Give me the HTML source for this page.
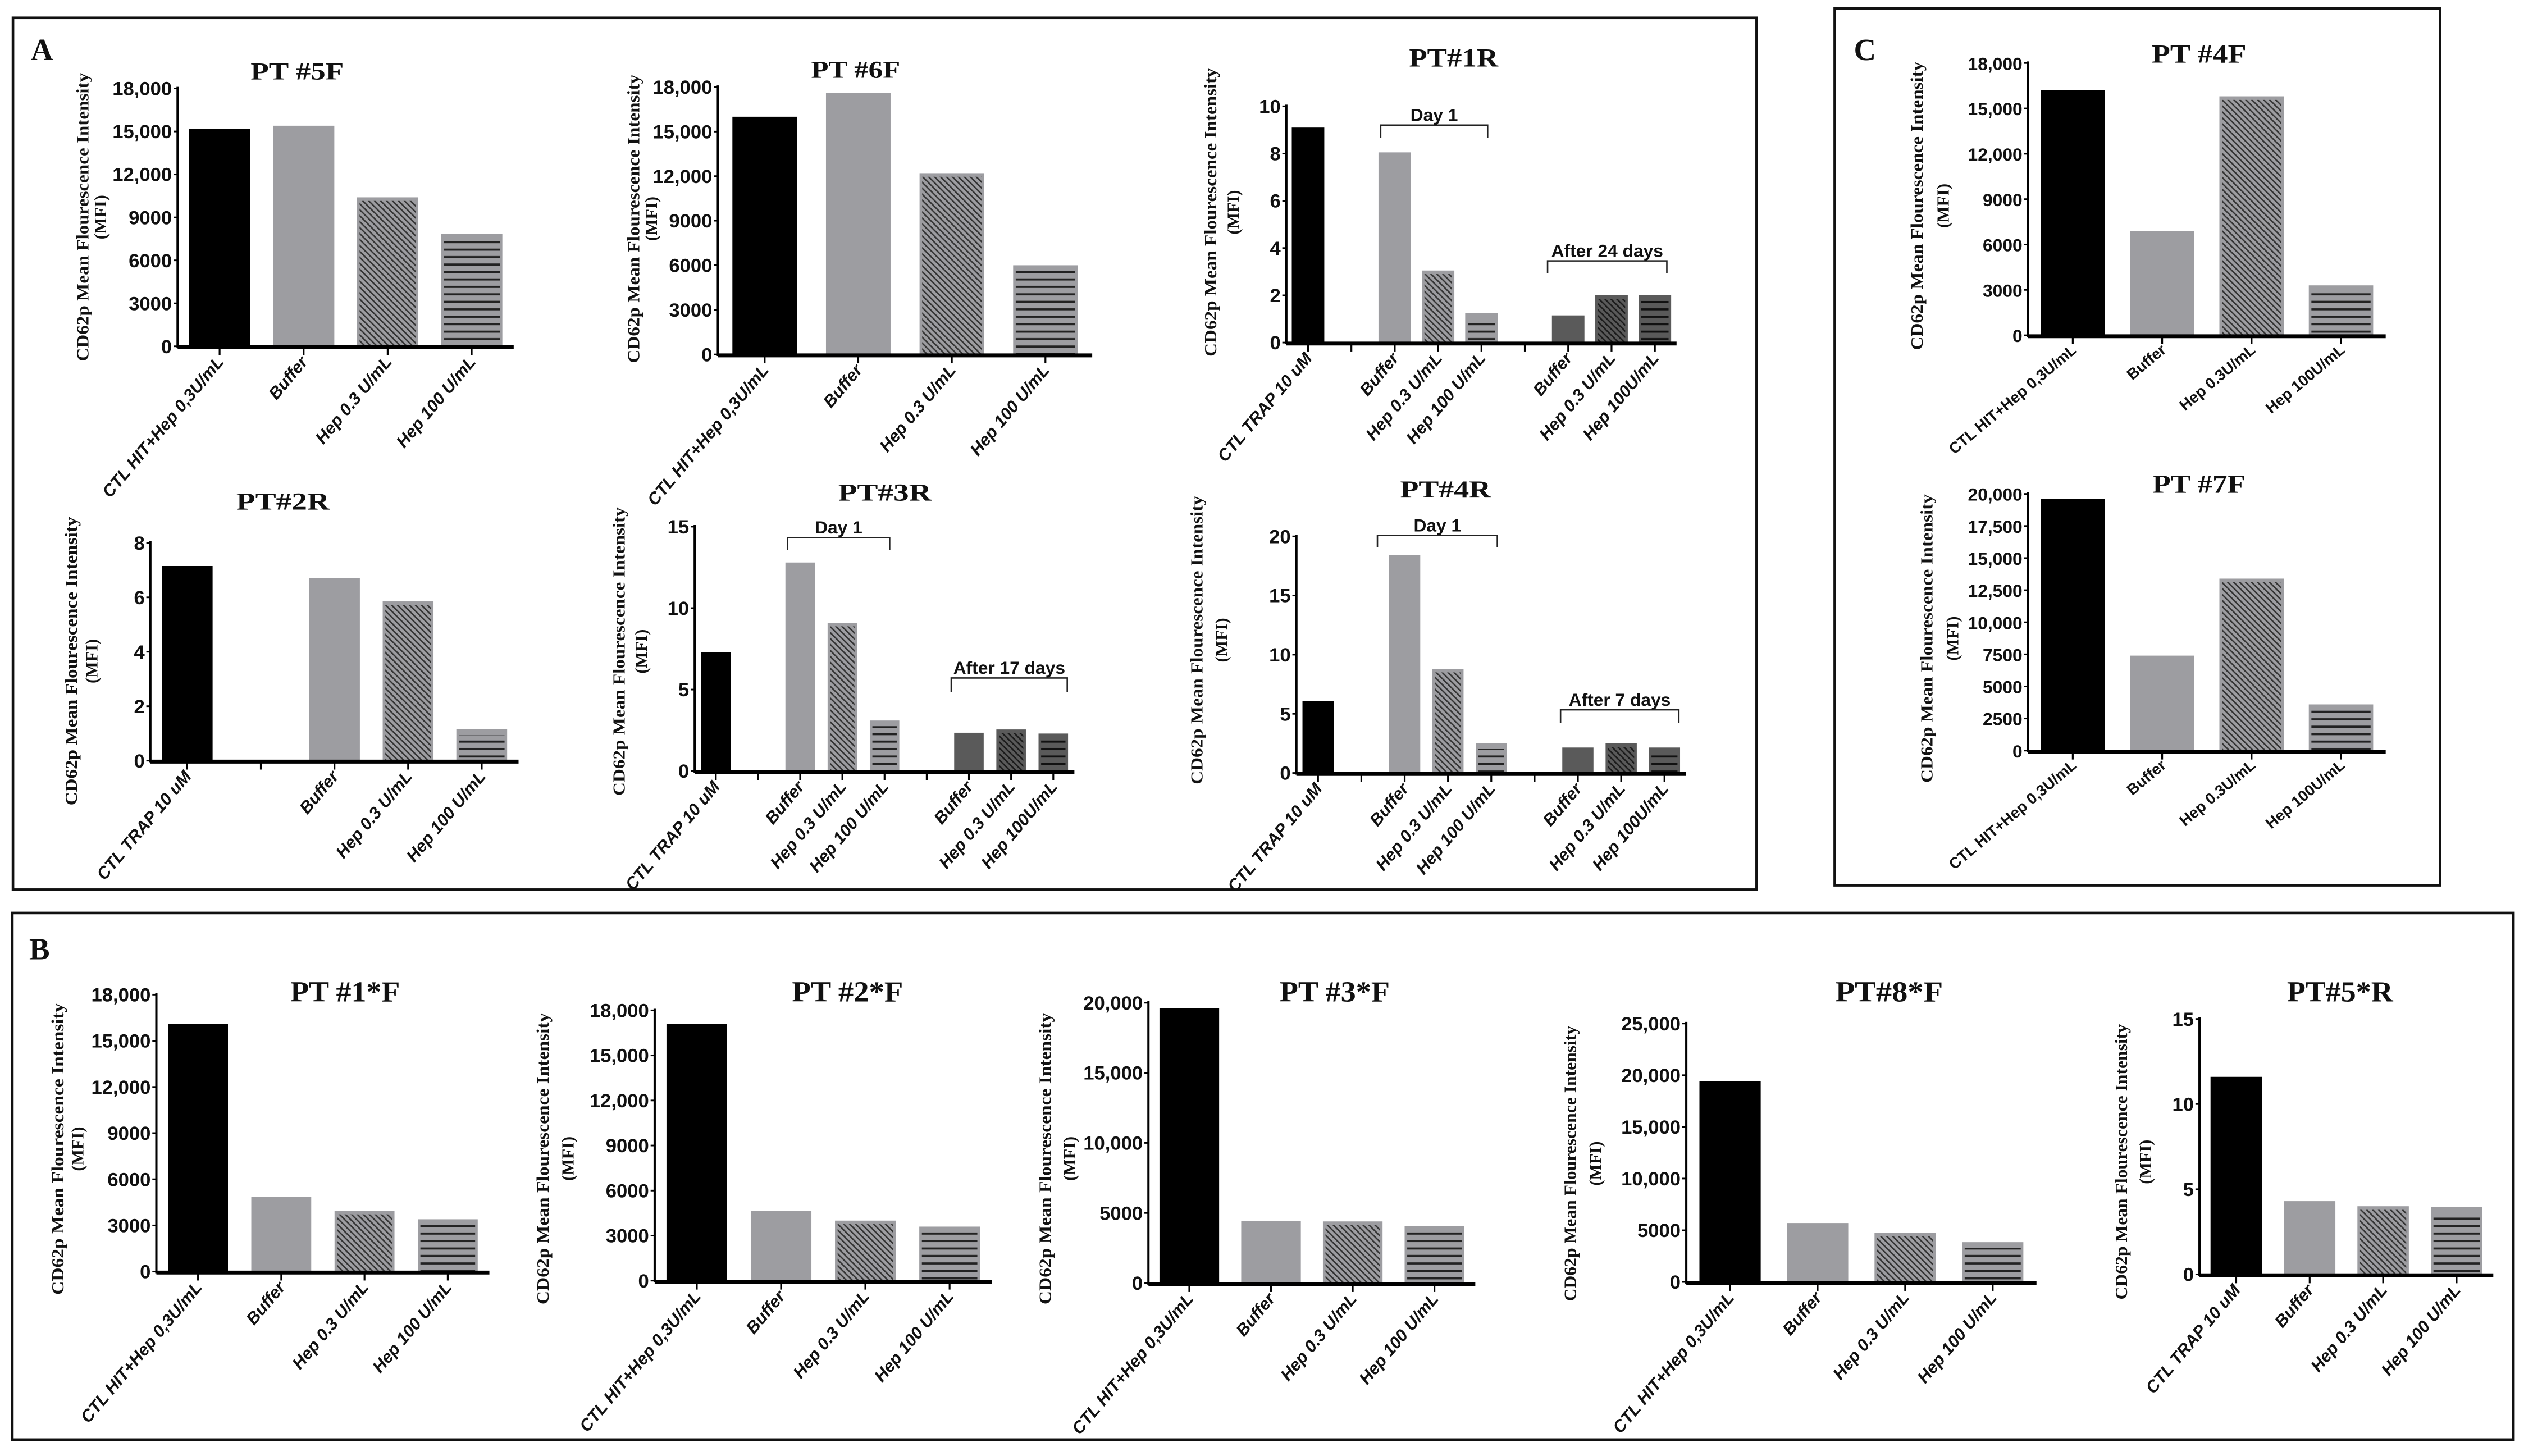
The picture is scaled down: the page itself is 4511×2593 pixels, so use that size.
<!DOCTYPE html>
<html><head><meta charset="utf-8">
<style>
html,body{margin:0;padding:0;background:#fff;}
svg{display:block;}
.tk{font-family:"Liberation Sans Narrow","Liberation Sans",sans-serif;font-weight:bold;font-size:12px;fill:#111;}
.tkc{font-family:"Liberation Sans",sans-serif;font-weight:bold;font-size:11px;fill:#111;}
.xl{font-family:"Liberation Sans",sans-serif;font-weight:bold;font-style:italic;font-size:10.5px;fill:#111;}
.xlc{font-family:"Liberation Sans",sans-serif;font-weight:bold;font-size:9.5px;fill:#111;}
.ttl{font-family:"Liberation Serif",serif;font-weight:bold;fill:#111;}
.yl{font-family:"Liberation Serif",serif;font-weight:bold;font-size:10.5px;fill:#111;}
.br{font-family:"Liberation Sans Narrow","Liberation Sans",sans-serif;font-weight:bold;font-size:11px;fill:#111;}
.pl{font-family:"Liberation Serif",serif;font-weight:bold;font-size:19px;fill:#111;}
</style></head>
<body>
<svg id="fig" xmlns="http://www.w3.org/2000/svg" width="4511" height="2593" viewBox="0 0 1563.1 898.5" preserveAspectRatio="none">
<defs>
<pattern id="hatch" patternUnits="userSpaceOnUse" width="2.6" height="2.6" patternTransform="rotate(-45)"><rect width="2.6" height="2.6" fill="#9d9da1"/><rect width="0.9" height="2.6" fill="#333"/></pattern>
<pattern id="hline" patternUnits="userSpaceOnUse" width="4" height="4.6"><rect width="4" height="4.6" fill="#9d9da1"/><rect y="1.6" width="4" height="1.3" fill="#222"/></pattern>
<pattern id="dhatch" patternUnits="userSpaceOnUse" width="2.6" height="2.6" patternTransform="rotate(-45)"><rect width="2.6" height="2.6" fill="#5a5a5a"/><rect width="0.9" height="2.6" fill="#1a1a1a"/></pattern>
<pattern id="dhline" patternUnits="userSpaceOnUse" width="4" height="4.6"><rect width="4" height="4.6" fill="#5a5a5a"/><rect y="1.6" width="4" height="1.3" fill="#111"/></pattern>
</defs>
<rect x="0" y="0" width="1563.1" height="898.5" fill="#fff"/>
<rect x="8" y="11" width="1076" height="538" fill="none" stroke="#111" stroke-width="1.6"/>
<rect x="1132.2" y="5.3" width="373.5" height="541" fill="none" stroke="#111" stroke-width="1.6"/>
<rect x="7.6" y="563.4" width="1543.4" height="325" fill="none" stroke="#111" stroke-width="1.6"/>
<text class="pl" x="19" y="37">A</text>
<text class="pl" x="1144" y="37">C</text>
<text class="pl" x="18" y="592">B</text>
</svg>
<script>
// ---------- data ----------
const fCats = ["CTL HIT+Hep 0,3U/mL","Buffer","Hep 0.3 U/mL","Hep 100 U/mL"];
const cCats = ["CTL HIT+Hep 0,3U/mL","Buffer","Hep 0.3U/mL","Hep 100U/mL"];
const rCats9a = ["CTL TRAP 10 uM","","Buffer","Hep 0.3 U/mL","Hep 100 U/mL","","Buffer","Hep 0.3 U/mL","Hep 100U/mL"];
const r2Cats = ["CTL TRAP 10 uM","","Buffer","Hep 0.3 U/mL","Hep 100 U/mL"];
const b5Cats = ["CTL TRAP 10 uM","Buffer","Hep 0.3 U/mL","Hep 100 U/mL"];

const pt5fValues = [15200,15400,10400,7850];
const pt6fValues = [16000,17600,12200,6000];
const pt1rValues = [9.1,null,8.05,3.05,1.25,null,1.15,2.0,2.0];
const pt2rValues = [7.15,null,6.7,5.85,1.15];
const pt3rValues = [7.3,null,12.8,9.1,3.1,null,2.35,2.55,2.3];
const pt4rValues = [6.1,null,18.4,8.8,2.5,null,2.15,2.5,2.15];
const pt4fValues = [16200,6900,15800,3300];
const pt7fValues = [19600,7400,13400,3600];
const b1Values = [16100,4850,3950,3400];
const b2Values = [17100,4650,4000,3600];
const b3Values = [19600,4450,4400,4050];
const b4Values = [19400,5700,4750,3850];
const b5Values = [11.6,4.3,4.0,3.95];

const ticks18k = [0,3000,6000,9000,12000,15000,18000];
const ticks18kLabels = ["0","3000","6000","9000","12,000","15,000","18,000"];
const ticks10 = [0,2,4,6,8,10];
const ticks10Labels = ["0","2","4","6","8","10"];
const ticks8 = [0,2,4,6,8];
const ticks8Labels = ["0","2","4","6","8"];
const ticks15 = [0,5,10,15];
const ticks15Labels = ["0","5","10","15"];
const ticks20 = [0,5,10,15,20];
const ticks20Labels = ["0","5","10","15","20"];
const ticks20k = [0,2500,5000,7500,10000,12500,15000,17500,20000];
const ticks20kLabels = ["0","2500","5000","7500","10,000","12,500","15,000","17,500","20,000"];
const ticks20kB = [0,5000,10000,15000,20000];
const ticks20kBLabels = ["0","5000","10,000","15,000","20,000"];
const ticks25k = [0,5000,10000,15000,20000,25000];
const ticks25kLabels = ["0","5000","10,000","15,000","20,000","25,000"];

const fFills = ["black","gray","hatch","hline"];
const rFills9 = ["black",null,"gray","hatch","hline",null,"dark","dhatch","dhline"];
const r2Fills = ["black",null,"gray","hatch","hline"];

// ---------- layout (pixels, not data) ----------
const charts = [
 {id:"pt5f",title:"PT #5F",tx:183.4,ty:49,tl:57.5,fs:15,ax:109.6,ex:317,top:54.6,y0:213.7,max:18000,ticks:ticks18k,tlab:ticks18kLabels,cats:fCats,vals:pt5fValues,fills:fFills,bw:0.73,ylx:[51,62],ylc:134,yll:178},
 {id:"pt6f",title:"PT #6F",tx:528,ty:48,tl:55,fs:15,ax:443,ex:674,top:53.7,y0:218.7,max:18000,ticks:ticks18k,tlab:ticks18kLabels,cats:fCats,vals:pt6fValues,fills:fFills,bw:0.69,ylx:[391,402],ylc:135,yll:178},
 {id:"pt1r",title:"PT#1R",tx:897,ty:41,tl:55,fs:16,ax:793.8,ex:1034.6,top:65.6,y0:211.4,max:10,ticks:ticks10,tlab:ticks10Labels,cats:rCats9a,vals:pt1rValues,fills:rFills9,bw:0.75,ylx:[747,761],ylc:131,yll:178,
  brackets:[{x1:852,x2:918,y:77.2,d:8,label:"Day 1"},{x1:955,x2:1028.6,y:161,d:7.6,label:"After 24 days"}]},
 {id:"pt2r",title:"PT#2R",tx:174.6,ty:314.5,tl:57.5,fs:15,ax:92.8,ex:320,top:335,y0:469.4,max:8,ticks:ticks8,tlab:ticks8Labels,cats:r2Cats,vals:pt2rValues,fills:r2Fills,bw:0.69,ylx:[44,56.6],ylc:408,yll:178},
 {id:"pt3r",title:"PT#3R",tx:546,ty:309,tl:57.5,fs:15,ax:428.7,ex:663,top:325,y0:475.8,max:15,ticks:ticks15,tlab:ticks15Labels,cats:rCats9a,vals:pt3rValues,fills:rFills9,bw:0.7,ylx:[382,395.6],ylc:402,yll:178,
  brackets:[{x1:486,x2:549,y:331.7,d:7.7,label:"Day 1"},{x1:587,x2:658.6,y:418.4,d:8.6,label:"After 17 days"}]},
 {id:"pt4r",title:"PT#4R",tx:892,ty:307,tl:56,fs:15,ax:800,ex:1040.5,top:331,y0:477,max:20,ticks:ticks20,tlab:ticks20Labels,cats:rCats9a,vals:pt4rValues,fills:rFills9,bw:0.72,ylx:[738.6,753.8],ylc:395,yll:178,
  brackets:[{x1:850,x2:924,y:330.4,d:7.3,label:"Day 1"},{x1:963,x2:1036,y:438,d:8,label:"After 7 days"}]},
 {id:"pt4f",title:"PT #4F",tx:1357,ty:38.6,tl:58.5,fs:16,ax:1251.5,ex:1472.2,top:38.9,y0:206.9,max:18000,ticks:ticks18k,tlab:ticks18kLabels,cats:cCats,vals:pt4fValues,fills:fFills,bw:0.72,ylx:[1183,1199],ylc:127,yll:178,c:true},
 {id:"pt7f",title:"PT #7F",tx:1357,ty:304,tl:57.4,fs:16,ax:1251.5,ex:1472.2,top:304.8,y0:463.2,max:20000,ticks:ticks20k,tlab:ticks20kLabels,cats:cCats,vals:pt7fValues,fills:fFills,bw:0.72,ylx:[1189,1205],ylc:394,yll:178,c:true},
 {id:"b1",title:"PT #1*F",tx:213,ty:618,tl:67.6,fs:18,ax:96.5,ex:302,top:613.8,y0:784.7,max:18000,ticks:ticks18k,tlab:ticks18kLabels,cats:fCats,vals:b1Values,fills:fFills,bw:0.72,ylx:[35.6,48],ylc:709,yll:180},
 {id:"b2",title:"PT #2*F",tx:523,ty:618,tl:68.6,fs:18,ax:404,ex:612,top:623.5,y0:790.3,max:18000,ticks:ticks18k,tlab:ticks18kLabels,cats:fCats,vals:b2Values,fills:fFills,bw:0.72,ylx:[335,350.5],ylc:715,yll:180},
 {id:"b3",title:"PT #3*F",tx:823.6,ty:618,tl:68,fs:18,ax:708.7,ex:910.4,top:618.8,y0:791.8,max:20000,ticks:ticks20kB,tlab:ticks20kBLabels,cats:fCats,vals:b3Values,fills:fFills,bw:0.73,ylx:[645,660],ylc:715,yll:180},
 {id:"b4",title:"PT#8*F",tx:1165.8,ty:618,tl:66.4,fs:18,ax:1040.6,ex:1256.7,top:631.6,y0:791.1,max:25000,ticks:ticks25k,tlab:ticks25kLabels,cats:fCats,vals:b4Values,fills:fFills,bw:0.7,ylx:[969,984.5],ylc:718,yll:170},
 {id:"b5",title:"PT#5*R",tx:1444,ty:618,tl:65.4,fs:18,ax:1357.3,ex:1538.6,top:628.8,y0:786.4,max:15,ticks:ticks15,tlab:ticks15Labels,cats:b5Cats,vals:b5Values,fills:fFills,bw:0.7,ylx:[1309,1324],ylc:717,yll:170}
];

const NS = "http://www.w3.org/2000/svg";
const svg = document.getElementById("fig");
function mk(tag, parent){ const e = document.createElementNS(NS, tag); parent.appendChild(e); return e; }
function at(e, k, v){ e.setAttribute(k, v); }

const baseColor = {black:"#000", gray:"#9d9da1", hatch:"#9d9da1", hline:"#9d9da1", dark:"#5a5a5a", dhatch:"#5a5a5a", dhline:"#5a5a5a"};

charts.forEach(function(c){
  const g = mk("g", svg);
  
  
  const yScale = function(v){ return c.y0 - (v / c.max) * (c.y0 - c.top); };
  const n = c.cats.length;
  const slot = (c.ex - c.ax) / n;
  const xCenter = function(i){ return c.ax + (i + 0.5) * slot; };

  const t = mk("text", g);
  
  
  at(t,"class","ttl"); at(t,"x",c.tx); at(t,"y",c.ty); at(t,"text-anchor","middle");
  at(t,"font-size",c.fs); at(t,"textLength",c.tl); at(t,"lengthAdjust","spacingAndGlyphs");
  t.textContent = c.title;

  const yl1 = mk("text", g);
  
  
  at(yl1,"class","yl"); at(yl1,"text-anchor","middle");
  at(yl1,"transform","translate(" + (c.ylx[0] + 3.5) + "," + c.ylc + ") rotate(-90)");
  at(yl1,"textLength",c.yll); at(yl1,"lengthAdjust","spacingAndGlyphs");
  if (c.c) { at(yl1,"font-weight","normal"); at(yl1,"font-size","11"); }
  yl1.textContent = "CD62p Mean Flourescence Intensity";
  const yl2 = mk("text", g);
  
  
  at(yl2,"class","yl"); at(yl2,"text-anchor","middle");
  at(yl2,"transform","translate(" + (c.ylx[1] + 3.5) + "," + c.ylc + ") rotate(-90)");
  if (c.c) { at(yl2,"font-weight","normal"); at(yl2,"font-size","11"); }
  yl2.textContent = "(MFI)";

  c.vals.forEach(function(v, i){
    if (v === null || v === undefined) return;
    const f = c.fills[i];
    const w = slot * c.bw;
    const x = xCenter(i) - w / 2;
    const y = yScale(v);
    const r = mk("rect", g);
    
    
    at(r,"x",x); at(r,"y",y); at(r,"width",w); at(r,"height",c.y0 - y);
    at(r,"fill", baseColor[f]);
    if (f === "hatch" || f === "hline" || f === "dhatch" || f === "dhline") {
      const inset = 1.6;
      const ytop = y + (f.indexOf("hline") >= 0 ? 3.5 : 2.2);
      if (c.y0 - ytop > 1) {
        const p = mk("rect", g);
        
        
        at(p,"x",x + inset); at(p,"y",ytop); at(p,"width",w - 2 * inset); at(p,"height",c.y0 - ytop);
        at(p,"fill","url(#" + f + ")");
      }
    }
  });

  const ya = mk("line", g);
  
  
  at(ya,"x1",c.ax); at(ya,"x2",c.ax); at(ya,"y1",c.top - 1); at(ya,"y2",c.y0 + 1);
  at(ya,"stroke","#000"); at(ya,"stroke-width","1.4");
  const xa = mk("line", g);
  
  
  at(xa,"x1",c.ax); at(xa,"x2",c.ex); at(xa,"y1",c.y0 + 0.6); at(xa,"y2",c.y0 + 0.6);
  at(xa,"stroke","#000"); at(xa,"stroke-width","2.4");

  c.ticks.forEach(function(tv, k){
    const yy = yScale(tv);
    const tm = mk("line", g);
    
    
    at(tm,"x1",c.ax - 2.5); at(tm,"x2",c.ax); at(tm,"y1",yy); at(tm,"y2",yy);
    at(tm,"stroke","#000"); at(tm,"stroke-width","1");
    const tl = mk("text", g);
    
    
    at(tl,"class", c.c ? "tkc" : "tk"); at(tl,"x",c.ax - 3.5); at(tl,"y",yy + 4.2);
    at(tl,"text-anchor","end");
    tl.textContent = c.tlab[k];
  });

  c.cats.forEach(function(cat, i){
    const xc = xCenter(i);
    const tm = mk("line", g);
    
    
    at(tm,"x1",xc); at(tm,"x2",xc); at(tm,"y1",c.y0); at(tm,"y2",c.y0 + 5.5);
    at(tm,"stroke","#000"); at(tm,"stroke-width","1.1");
    if (!cat) return;
    const xl = mk("text", g);
    
    
    at(xl,"class", c.c ? "xlc" : "xl"); at(xl,"text-anchor","end");
    const ang = c.c ? -40 : -50;
    at(xl,"transform","translate(" + (xc + 3) + "," + (c.y0 + 10) + ") rotate(" + ang + ")");
    xl.textContent = cat;
  });

  (c.brackets || []).forEach(function(b, k){
    const pl = mk("polyline", g);
    
    
    at(pl,"points", b.x1 + "," + (b.y + b.d) + " " + b.x1 + "," + b.y + " " + b.x2 + "," + b.y + " " + b.x2 + "," + (b.y + b.d));
    at(pl,"fill","none"); at(pl,"stroke","#222"); at(pl,"stroke-width","0.9");
    const bt = mk("text", g);
    
    
    at(bt,"class","br"); at(bt,"x",(b.x1 + b.x2) / 2); at(bt,"y",b.y - 2.5); at(bt,"text-anchor","middle");
    bt.textContent = b.label;
  });
});
</script>
</body></html>
